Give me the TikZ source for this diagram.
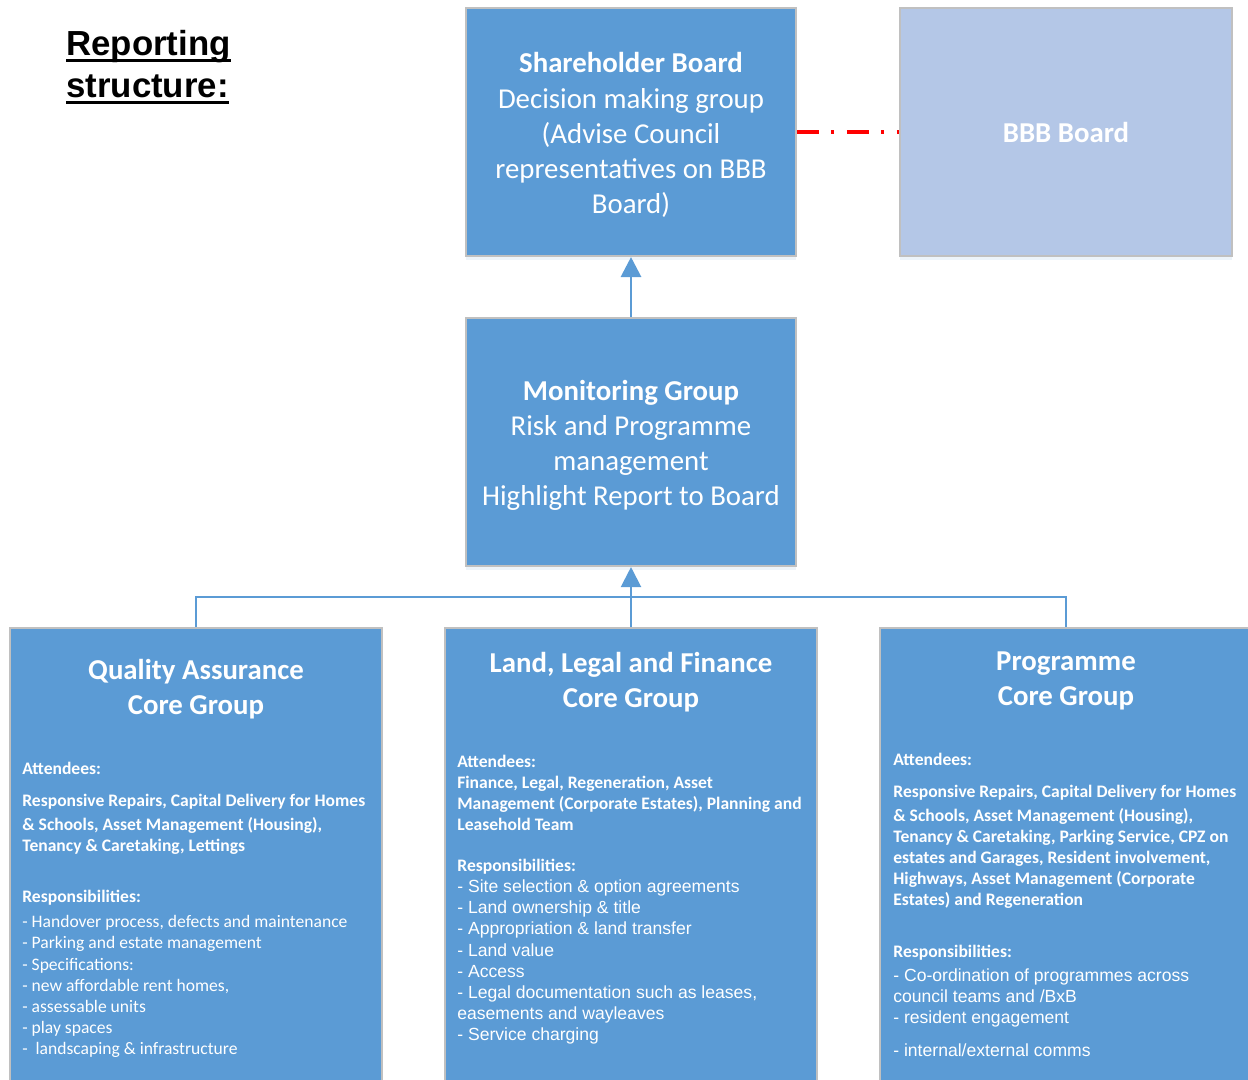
\documentclass[tikz,border=0pt]{standalone}
\usepackage{fontspec}
\setmainfont{Carlito}
\newfontfamily\arial{Liberation Sans}
\usetikzlibrary{positioning, arrows.meta, shadows}

\definecolor{officeblue}{HTML}{5B9BD5}
\definecolor{paleblue}{HTML}{B4C7E7}
\definecolor{edgegrey}{HTML}{C0C0C0}

\begin{document}
\begin{tikzpicture}[x=0.02cm, y=-0.02cm,
        board/.style={draw=edgegrey, line width=1.2pt, fill=officeblue, text=white, align=center, inner sep=0pt,
            drop shadow={shadow xshift=0pt, shadow yshift=-2.5pt, opacity=0.18, fill=officeblue!60},
            font=\fontsize{16.4}{20}\selectfont},
        group/.style={board, minimum width=7.44cm, minimum height=10cm},
        heading/.style={text=white, align=center, inner sep=0pt, font=\fontsize{16.4}{20}\selectfont\bfseries},
        notes/.style={anchor=north west, text=white, align=left, inner sep=0pt, font=\fontsize{10}{12}\selectfont},
        titleline/.style={anchor=base west, inner sep=0pt, font=\arial\bfseries\fontsize{19.8}{23.2}\selectfont},
        link/.style={draw=officeblue, line width=1.2pt},
        up/.style={-{Triangle[width=0.4cm, length=0.4cm]}}]
    \useasboundingbox (0,0) rectangle (1248,1079);
    \clip (0,0) rectangle (1248,1079);

    % title, underlined by hand
    \node[titleline] (title-a) at (66,55) {Reporting};
    \node[titleline] (title-b) at (66,97) {structure:};
    \foreach \t in {title-a, title-b}
        \draw[line width=1.7pt] ([yshift=-3.2pt]\t.base west) -- ([yshift=-3.2pt]\t.base east);

    % top row
    \node[board, minimum width=6.6cm, minimum height=4.96cm] (share) at (631,132) {\rule{0pt}{15pt}\textbf{Shareholder Board}\\Decision making group\\(Advise Council\\representatives on BBB\\Board)};
    \node[board, fill=paleblue, minimum width=6.64cm, minimum height=4.96cm, font=\fontsize{16.4}{20}\selectfont\bfseries] (bbb) at (1066,132) {BBB Board};
    \draw[red, line width=1.8pt, dash pattern=on 12.5pt off 6.8pt on 1.7pt off 7.4pt] (share.east) -- (bbb.west);

    \node[board, minimum width=6.6cm, minimum height=4.96cm] (monitor) at (631,442) {\rule{0pt}{15pt}\textbf{Monitoring Group}\\Risk and Programme\\management\\Highlight Report to Board};
    \draw[link, up, line width=1.7pt] (monitor.north) -- (share.south);

    % core groups
    \node[group] (quality) at (196,878) {};
    \node[group] (legal) at (631,878) {};
    \node[group] (programme) at (1066,878) {};

    \coordinate (bus) at (631,597);
    \draw[link] (quality.north) |- (bus) -| (programme.north);
    \draw[link, up] (legal.north) -- (monitor.south);

    \node[heading] (quality-title) at (196,689) {Quality Assurance\\Core Group};
    \node[heading] (legal-title) at (631,682) {Land, Legal and Finance\\Core Group};
    \node[heading] (programme-title) at (1066,681) {Programme\\Core Group};

    \node[notes] (quality-notes) at (22,762) {\textbf{Attendees:}\\[6pt]
        \textbf{Responsive Repairs, Capital Delivery for Homes}\\[1.6pt]
        \textbf{\& Schools, Asset Management (Housing),}\\
        \textbf{Tenancy \& Caretaking, Lettings}\\[17.4pt]
        \textbf{Responsibilities:}\\[2.2pt]
        - Handover process, defects and maintenance\\
        - Parking and estate management\\
        - Specifications:\\
        - new affordable rent homes,\\
        - assessable units\\
        - play spaces\\
        -\ \ landscaping \& infrastructure};

    \node[notes] (legal-notes) at (457,755) {\textbf{Attendees:}\\
        \textbf{Finance, Legal, Regeneration, Asset}\\
        \textbf{Management (Corporate Estates), Planning and}\\
        \textbf{Leasehold Team}\\[11.2pt]
        \textbf{Responsibilities:}\\
        {\arial - Site selection \& option agreements}\\
        {\arial - Land ownership \& title}\\
        {\arial - Appropriation \& land transfer}\\
        {\arial - Land value}\\
        {\arial - Access}\\
        {\arial - Legal documentation such as leases,}\\
        {\arial easements and wayleaves}\\
        {\arial - Service charging}};

    \node[notes] (programme-notes) at (893,753) {\textbf{Attendees:}\\[6pt]
        \textbf{Responsive Repairs, Capital Delivery for Homes}\\[1.6pt]
        \textbf{\& Schools, Asset Management (Housing),}\\
        \textbf{Tenancy \& Caretaking, Parking Service, CPZ on}\\
        \textbf{estates and Garages, Resident involvement,}\\
        \textbf{Highways, Asset Management (Corporate}\\
        \textbf{Estates) and Regeneration}\\[17.4pt]
        \textbf{Responsibilities:}\\[1.6pt]
        {\arial - Co-ordination of programmes across}\\
        {\arial council teams and /BxB}\\
        {\arial - resident engagement}\\[7.2pt]
        {\arial - internal/external comms}};
\end{tikzpicture}
\end{document}
